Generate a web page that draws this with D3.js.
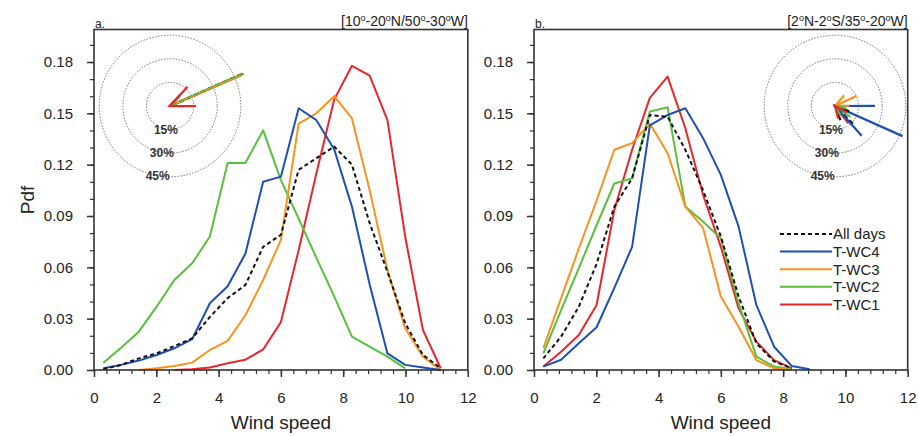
<!DOCTYPE html>
<html>
<head>
<meta charset="utf-8">
<title>Wind speed pdf by weather class</title>
<script src="https://cdn.jsdelivr.net/npm/d3@7"></script>
<style>
  body { margin: 0; background: #fff; }
  svg text { font-family: "Liberation Sans", Arial, sans-serif; }
  .line { fill: none; stroke-width: 2px; stroke-linejoin: round; }
</style>
</head>
<body>
<script>
// wind speed bin centres (both regions)
const windSpeed = [0.30, 0.87, 1.44, 2.01, 2.58, 3.15, 3.72, 4.29, 4.86, 5.43,
                   6.00, 6.57, 7.14, 7.71, 8.28, 8.85, 9.42, 9.99, 10.56, 11.13];

const seriesNames = ['All days', 'T-WC4', 'T-WC3', 'T-WC2', 'T-WC1'];
const seriesColors = ['#111111', '#1f4fb4', '#f7931e', '#58c03c', '#e8262b'];

// panel a: 10-20N / 50-30W
const aAllDays = [0.0004, 0.003, 0.0068, 0.0097, 0.014, 0.0185, 0.031, 0.042, 0.0497, 0.072,
                  0.079, 0.117, 0.1238, 0.1306, 0.120, 0.0858, 0.0575, 0.0273, 0.0088, 0.001];
const aWC4 = [0.001, 0.003, 0.0055, 0.0088, 0.0127, 0.018, 0.039, 0.049, 0.068, 0.110,
              0.113, 0.153, 0.146, 0.129, 0.0955, 0.050, 0.0097, 0.003, 0.0015, 0.0];
const aWC3 = [null, null, 0.0, 0.001, 0.0023, 0.0043, 0.0117, 0.017, 0.032, 0.0526,
              0.076, 0.144, 0.150, 0.160, 0.147, 0.105, 0.0585, 0.0244, 0.0078, 0.0];
const aWC2 = [0.0043, 0.013, 0.0224, 0.037, 0.0526, 0.0624, 0.078, 0.121, 0.121, 0.140,
              0.111, 0.0885, 0.0655, 0.043, 0.0195, 0.0136, 0.0078, 0.001, null, null];
const aWC1 = [null, null, null, null, 0.0, 0.0004, 0.0015, 0.004, 0.006, 0.012,
              0.028, 0.070, 0.115, 0.158, 0.1778, 0.172, 0.146, 0.078, 0.0234, 0.001];

// panel b: 2N-2S / 35-20W
const bAllDays = [0.0068, 0.0195, 0.037, 0.062, 0.0955, 0.112, 0.149, 0.148, 0.1287, 0.105,
                  0.078, 0.043, 0.0156, 0.005, 0.001, null, null, null, null, null];
const bWC4 = [0.002, 0.006, 0.0156, 0.025, 0.048, 0.072, 0.143, 0.149, 0.153, 0.1355,
              0.114, 0.0838, 0.038, 0.0136, 0.0023, 0.0004, null, null, null, null];
const bWC3 = [0.0127, 0.042, 0.071, 0.099, 0.1287, 0.1326, 0.144, 0.1267, 0.0955, 0.083,
              0.043, 0.0253, 0.0058, 0.001, 0.0, null, null, null, null, null];
const bWC2 = [0.0097, 0.035, 0.0596, 0.0846, 0.109, 0.112, 0.151, 0.1536, 0.0955, 0.0867,
              0.077, 0.039, 0.0078, 0.002, 0.0004, null, null, null, null, null];
const bWC1 = [0.002, 0.0107, 0.0205, 0.038, 0.0936, 0.1287, 0.159, 0.1715, 0.1413, 0.1023,
              0.072, 0.036, 0.0166, 0.0058, 0.001, null, null, null, null, null];

// wind roses: mean vector length (%) and direction (deg, counter-clockwise from east)
const aRosePct = [50, 49.5, 50, 50.5, 51];
const aRoseDir = [24, 23.5, 23.5, 24, 23.7];
const bRosePct = [16, 47, 15, 12, 14];
const bRoseDir = [-45, -24, 25, -35, -52];
const roseRings = [15, 30, 45];

const xTicks = [0, 2, 4, 6, 8, 10, 12];
const yTicks = [0, 0.03, 0.06, 0.09, 0.12, 0.15, 0.18];

const svg = d3.select('body').append('svg')
    .attr('width', 918)
    .attr('height', 436);

const y = d3.scaleLinear().domain([0, 0.199]).range([370, 29.5]);
const rose = d3.scaleLinear().domain([0, 45]).range([0, 70.8]);

const panels = [
    { letter: 'a.', left: 94, right: 467.8,
      title: [['[10', 0], ['o', 1], ['-20', 0], ['o', 1], ['N/50', 0], ['o', 1], ['-30', 0], ['o', 1], ['W]', 0]],
      data: [aAllDays, aWC4, aWC3, aWC2, aWC1],
      rosePct: aRosePct, roseDir: aRoseDir, cx: 170, cy: 106, head: 26, legend: false },
    { letter: 'b.', left: 534, right: 907.7,
      title: [['[2', 0], ['o', 1], ['N-2', 0], ['o', 1], ['S/35', 0], ['o', 1], ['-20', 0], ['o', 1], ['W]', 0]],
      data: [bAllDays, bWC4, bWC3, bWC2, bWC1],
      rosePct: bRosePct, roseDir: bRoseDir, cx: 835, cy: 106, head: 40, legend: true }
];

panels.forEach(p => {
    const x = d3.scaleLinear().domain([0, 12]).range([p.left, p.right]);
    const g = svg.append('g');

    // minor ticks
    g.append('g')
        .attr('transform', 'translate(0,' + y(0) + ')')
        .call(d3.axisBottom(x).tickValues(d3.range(0, 12.01, 0.4)).tickSize(4).tickFormat(''))
        .call(s => s.select('.domain').remove())
        .selectAll('line').attr('stroke', '#333').attr('stroke-width', 1.2);
    g.append('g')
        .attr('transform', 'translate(' + p.left + ',0)')
        .call(d3.axisLeft(y).tickValues(d3.range(0, 0.195, 0.01)).tickSize(4).tickFormat(''))
        .call(s => s.select('.domain').remove())
        .selectAll('line').attr('stroke', '#333').attr('stroke-width', 1.2);

    // major ticks
    const xa = g.append('g')
        .attr('transform', 'translate(0,' + y(0) + ')')
        .call(d3.axisBottom(x).tickValues(xTicks).tickSize(7).tickPadding(15).tickFormat(d3.format('d')))
        .call(s => s.select('.domain').remove());
    const ya = g.append('g')
        .attr('transform', 'translate(' + p.left + ',0)')
        .call(d3.axisLeft(y).tickValues(yTicks).tickSize(7).tickPadding(14).tickFormat(d3.format('.2f')))
        .call(s => s.select('.domain').remove());
    [xa, ya].forEach(a => {
        a.attr('font-size', 15).attr('font-family', null);
        a.selectAll('line').attr('stroke', '#333').attr('stroke-width', 1.5);
        a.selectAll('text').attr('fill', '#222');
    });

    // wind rose inset
    const r = g.append('g');
    r.selectAll('circle.ring').data(roseRings).enter().append('circle')
        .attr('class', 'ring')
        .attr('cx', p.cx).attr('cy', p.cy)
        .attr('r', d => rose(d))
        .attr('fill', 'none').attr('stroke', '#777')
        .attr('stroke-width', 1).attr('stroke-dasharray', '1.5,1.5');
    r.selectAll('text.ringlab').data(roseRings).enter().append('text')
        .attr('class', 'ringlab')
        .attr('x', d => p.cx - rose(d) * Math.sin(10 * Math.PI / 180))
        .attr('y', d => p.cy + rose(d) * Math.cos(10 * Math.PI / 180))
        .attr('dy', '0.36em')
        .attr('text-anchor', 'middle')
        .attr('font-size', 12).attr('font-weight', 'bold').attr('fill', '#333')
        .text(d => d + '%');

    const dashed = i => (p.letter === 'a.' && i === 3) || i === 0 ? '5,3' : null;
    // shafts first, then the heads so the red head sits on top
    [4, 1, 0, 2, 3].forEach(i => {
        const len = rose(p.rosePct[i]);
        const ang = p.roseDir[i] * Math.PI / 180;
        r.append('line')
            .attr('x1', p.cx + len * Math.cos(ang)).attr('y1', p.cy - len * Math.sin(ang))
            .attr('x2', p.cx).attr('y2', p.cy)
            .attr('stroke', seriesColors[i])
            .attr('stroke-width', i === 3 ? 2 : 2.4)
            .attr('stroke-dasharray', dashed(i));
    });
    [1, 0, 2, 3, 4].forEach(i => {
        const len = rose(p.rosePct[i]);
        const ang = p.roseDir[i] * Math.PI / 180;
        const h = Math.min(p.head, len * 0.6) * (p.letter === 'a.' && i !== 4 ? 0.55 : 1);
        r.append('path')
            .attr('d', 'M' + (p.cx + h * Math.cos(ang + 0.42)) + ',' + (p.cy - h * Math.sin(ang + 0.42)) +
                'L' + p.cx + ',' + p.cy +
                'L' + (p.cx + h * Math.cos(ang - 0.42)) + ',' + (p.cy - h * Math.sin(ang - 0.42)))
            .attr('fill', 'none')
            .attr('stroke', seriesColors[i])
            .attr('stroke-width', 2.2);
    });

    // pdf curves
    const line = d3.line()
        .defined(d => d[1] != null)
        .x(d => x(d[0]))
        .y(d => y(d[1]));
    [4, 3, 2, 1, 0].forEach(i => {
        g.append('path')
            .datum(windSpeed.map((w, k) => [w, p.data[i][k]]))
            .attr('class', 'line')
            .attr('stroke', seriesColors[i])
            .attr('stroke-dasharray', i === 0 ? '4,3' : null)
            .attr('d', line);
    });

    // frame
    g.append('rect')
        .attr('x', p.left).attr('y', y.range()[1])
        .attr('width', p.right - p.left).attr('height', y(0) - y.range()[1])
        .attr('fill', 'none').attr('stroke', '#333').attr('stroke-width', 1.6);

    // panel letter and region
    g.append('text')
        .attr('x', p.left + 1).attr('y', y.range()[1] - 2)
        .attr('font-size', 12).attr('fill', '#222')
        .text(p.letter);
    const t = g.append('text')
        .attr('x', p.right).attr('y', 26)
        .attr('text-anchor', 'end')
        .attr('font-size', 14).attr('fill', '#222');
    p.title.forEach(([s, sup], k) => {
        const prevSup = k > 0 && p.title[k - 1][1];
        t.append('tspan')
            .attr('font-size', sup ? 9 : 14)
            .attr('dy', sup ? -5 : (prevSup ? 5 : 0))
            .text(s);
    });

    // x label
    g.append('text')
        .attr('x', (p.left + p.right) / 2).attr('y', 429)
        .attr('text-anchor', 'middle')
        .attr('font-size', 19).attr('fill', '#222')
        .text('Wind speed');

    if (p.legend) {
        const lg = g.append('g').attr('transform', 'translate(780,234)');
        const row = lg.selectAll('g').data(seriesNames).enter().append('g')
            .attr('transform', (d, i) => 'translate(0,' + i * 17.6 + ')');
        row.append('line')
            .attr('x1', 0).attr('x2', 52)
            .attr('stroke', (d, i) => seriesColors[i])
            .attr('stroke-width', 2)
            .attr('stroke-dasharray', (d, i) => i === 0 ? '4,3' : null);
        row.append('text')
            .attr('x', 53).attr('dy', '0.36em')
            .attr('font-size', 15).attr('fill', '#222')
            .text(d => d);
    }
});

// y label
svg.append('text')
    .attr('transform', 'translate(34,200) rotate(-90)')
    .attr('text-anchor', 'middle')
    .attr('font-size', 19).attr('fill', '#222')
    .text('Pdf');
</script>
</body>
</html>
